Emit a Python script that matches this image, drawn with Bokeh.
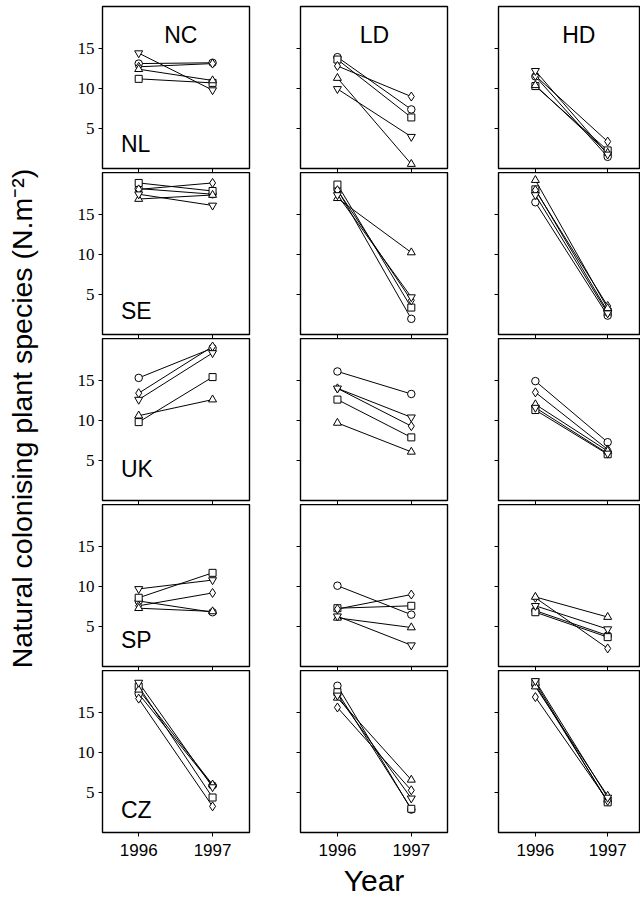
from bokeh.plotting import figure
from bokeh.layouts import gridplot, row
from bokeh.models import FixedTicker, Label, Range1d
from bokeh.embed import file_html
from bokeh.resources import INLINE

# ---------------- data ----------------
years = [1996, 1997]
treatments = ["NC", "LD", "HD"]
sites = ["NL", "SE", "UK", "SP", "CZ"]
# series order: circle, square, diamond, triangle, inverted triangle
markers = ["circle", "square", "diamond", "triangle", "inverted_triangle"]
y_ticks = [5, 10, 15]
x_ticks = [1996, 1997]
y_label = "Natural colonising plant species (N.m\u207b\u00b2)"
x_label = "Year"

NL_NC_1996 = [13.1, 11.2, 12.7, 12.4, 14.4]
NL_NC_1997 = [13.2, 10.7, 13.1, 11.0, 9.8]
NL_LD_1996 = [13.9, 13.6, 12.8, 11.3, 9.95]
NL_LD_1997 = [7.4, 6.4, 9.0, 0.6, 4.0]
NL_HD_1996 = [11.5, 10.3, 11.6, 10.4, 12.2]
NL_HD_1997 = [1.5, 2.3, 3.4, 2.0, 1.8]

SE_NC_1996 = [18.2, 18.9, 18.1, 16.9, 17.5]
SE_NC_1997 = [17.5, 17.9, 18.9, 17.4, 16.1]
SE_LD_1996 = [18.1, 18.7, 18.0, 17.0, 17.4]
SE_LD_1997 = [2.0, 3.4, 4.3, 10.25, 4.7]
SE_HD_1996 = [16.5, 18.1, 18.0, 19.25, 17.4]
SE_HD_1997 = [2.4, 2.9, 3.6, 3.3, 2.7]

UK_NC_1996 = [15.3, 9.8, 13.4, 10.6, 12.6]
UK_NC_1997 = [19.0, 15.4, 19.2, 12.6, 18.4]
UK_LD_1996 = [16.1, 12.6, 14.0, 9.7, 14.0]
UK_LD_1997 = [13.3, 7.9, 9.3, 6.1, 10.4]
UK_HD_1996 = [14.9, 11.3, 13.5, 12.0, 11.6]
UK_HD_1997 = [7.3, 5.8, 6.4, 6.2, 5.9]

SP_NC_1996 = [8.2, 8.6, 7.6, 7.3, 9.7]
SP_NC_1997 = [6.8, 11.7, 9.2, 6.9, 10.8]
SP_LD_1996 = [10.1, 7.3, 7.2, 6.1, 6.3]
SP_LD_1997 = [6.5, 7.6, 9.0, 4.9, 2.7]
SP_HD_1996 = [7.0, 6.8, 8.6, 8.7, 7.6]
SP_HD_1997 = [3.9, 3.7, 2.3, 6.2, 4.7]

CZ_NC_1996 = [17.3, 18.2, 16.7, 17.8, 18.7]
CZ_NC_1997 = [5.9, 4.4, 3.3, 6.0, 5.7]
CZ_LD_1996 = [18.3, 17.5, 15.6, 16.8, 17.1]
CZ_LD_1997 = [2.9, 3.0, 5.3, 6.6, 4.3]
CZ_HD_1996 = [18.4, 18.7, 16.9, 18.2, 18.9]
CZ_HD_1997 = [3.9, 3.8, 4.0, 4.6, 4.4]

table = {
    ("NL", "NC"): (NL_NC_1996, NL_NC_1997), ("NL", "LD"): (NL_LD_1996, NL_LD_1997), ("NL", "HD"): (NL_HD_1996, NL_HD_1997),
    ("SE", "NC"): (SE_NC_1996, SE_NC_1997), ("SE", "LD"): (SE_LD_1996, SE_LD_1997), ("SE", "HD"): (SE_HD_1996, SE_HD_1997),
    ("UK", "NC"): (UK_NC_1996, UK_NC_1997), ("UK", "LD"): (UK_LD_1996, UK_LD_1997), ("UK", "HD"): (UK_HD_1996, UK_HD_1997),
    ("SP", "NC"): (SP_NC_1996, SP_NC_1997), ("SP", "LD"): (SP_LD_1996, SP_LD_1997), ("SP", "HD"): (SP_HD_1996, SP_HD_1997),
    ("CZ", "NC"): (CZ_NC_1996, CZ_NC_1997), ("CZ", "LD"): (CZ_LD_1996, CZ_LD_1997), ("CZ", "HD"): (CZ_HD_1996, CZ_HD_1997),
}

# ---------------- style ----------------
SANS = "Liberation Sans"
SERIF = "Liberation Serif"
marker_size = {"circle": 7.5, "square": 7, "diamond": 9, "triangle": 8, "inverted_triangle": 8}
LABEL_W = 40
frame_w = [147, 147, 141]
left_b = [62, 49, 49]
right_b = [2, 2, 1]
x_ranges = [(1995.51, 1997.5), (1995.5, 1997.49), (1995.49, 1997.44)]
FRAME_H = 162
TOP_B = 6
GAP_B = 4
BOTTOM_B = 60
TOTAL_H = TOP_B + 5 * FRAME_H + 4 * GAP_B + BOTTOM_B
title_x = [1996.57, 1996.5, 1996.6]
site_label_y = [3.1, 3.0, 4.0, 3.3, 2.9]


def hide_labels(ax):
    ax.major_label_text_color = None
    ax.major_label_text_font_size = "0px"
    ax.major_label_standoff = 0


rows = []
for r, site in enumerate(sites):
    row_figs = []
    for c, tr in enumerate(treatments):
        last = r == len(sites) - 1
        p = figure(
            frame_width=frame_w[c], frame_height=FRAME_H,
            x_range=Range1d(*x_ranges[c]), y_range=Range1d(0.05, 20.2),
            output_backend="svg", toolbar_location=None, tools="",
            min_border_left=left_b[c], min_border_right=right_b[c],
            min_border_top=TOP_B if r == 0 else 0,
            min_border_bottom=BOTTOM_B if last else GAP_B,
            background_fill_color="white", border_fill_color="white",
        )
        p.outline_line_color = "black"
        p.outline_line_width = 1.4
        p.grid.visible = False

        for ax, ticks in ((p.xaxis, x_ticks), (p.yaxis, y_ticks)):
            ax.ticker = FixedTicker(ticks=ticks)
            ax.axis_line_color = None
            ax.major_tick_out = 4
            ax.major_tick_in = 0
            ax.minor_tick_out = 0
            ax.minor_tick_in = 0
            ax.major_tick_line_color = "black"
            ax.major_tick_line_width = 1

        if last:
            p.xaxis.major_label_text_font = SANS
            p.xaxis.major_label_text_font_size = "17px"
            p.xaxis.major_label_text_color = "black"
            p.xaxis.major_label_standoff = 7
            if c == 1:
                p.xaxis.axis_label = x_label
                p.xaxis.axis_label_text_font = SANS
                p.xaxis.axis_label_text_font_size = "30px"
                p.xaxis.axis_label_text_font_style = "normal"
                p.xaxis.axis_label_text_color = "black"
                p.xaxis.axis_label_standoff = 5
        else:
            hide_labels(p.xaxis)

        if c == 0:
            p.yaxis.major_label_text_font = SERIF
            p.yaxis.major_label_text_font_size = "17px"
            p.yaxis.major_label_text_color = "black"
            p.yaxis.major_label_standoff = 4
        else:
            hide_labels(p.yaxis)

        v96, v97 = table[(site, tr)]
        for i, m in enumerate(markers):
            p.line(x=years, y=[v96[i], v97[i]], line_color="black", line_width=1)
        for i, m in enumerate(markers):
            p.scatter(x=years, y=[v96[i], v97[i]], marker=m, size=marker_size[m],
                      fill_color="white", line_color="black", line_width=1)

        if r == 0:
            p.add_layout(Label(x=title_x[c], y=16.6, text=tr,
                               text_align="center", text_baseline="alphabetic",
                               text_font=SANS, text_font_size="23px", text_color="black"))
        if c == 0:
            p.add_layout(Label(x=1995.76, y=site_label_y[r], text=site,
                               text_align="left", text_baseline="alphabetic",
                               text_font=SANS, text_font_size="23px", text_color="black"))
        row_figs.append(p)
    rows.append(row_figs)

grid = gridplot(rows, toolbar_location=None)

# narrow strip carrying the shared y-axis title
lab = figure(width=LABEL_W, height=TOTAL_H, x_range=Range1d(0, 1), y_range=Range1d(0, 1),
             output_backend="svg", toolbar_location=None, tools="",
             x_axis_type=None, y_axis_type=None,
             min_border_left=0, min_border_right=0, min_border_top=0, min_border_bottom=0)
lab.outline_line_color = None
lab.grid.visible = False
lab.add_layout(Label(x=21, y=TOTAL_H - 418, x_units="screen", y_units="screen",
                     text=y_label, angle=90, angle_units="deg",
                     text_align="center", text_baseline="middle",
                     text_font=SANS, text_font_size="28.5px", text_color="black"))

layout = row(lab, grid)

open("out.html", "w").write(file_html(layout, INLINE))
